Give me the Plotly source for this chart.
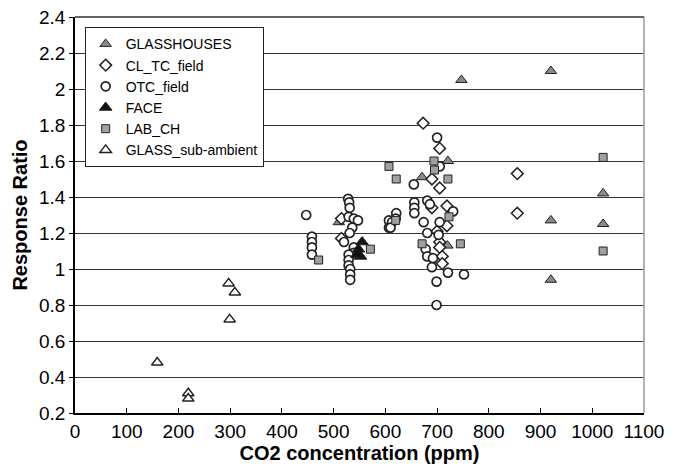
import plotly.graph_objects as go

# ---- data ----
glasshouses_x = [510, 671, 721, 720, 747, 920, 920, 920, 1021, 1021]
glasshouses_y = [1.26, 1.51, 1.60, 1.13, 2.05, 2.10, 1.27, 0.94, 1.42, 1.25]

cltc_x = [515, 515, 673, 705, 690, 705, 690, 719, 719, 705, 705, 710, 710, 700, 855, 855]
cltc_y = [1.28, 1.17, 1.81, 1.67, 1.50, 1.45, 1.34, 1.35, 1.24, 1.15, 1.12, 1.07, 1.03, 1.21, 1.53, 1.31]

otc_x = [447, 458, 458, 458, 458,
         528, 530, 531, 529, 539, 547, 536, 531, 520, 539, 539, 529, 529, 529, 532, 532, 532,
         607, 607, 621, 620, 613, 610,
         655, 656, 656, 656, 681, 686, 700, 705, 674, 705, 731, 681, 703, 678, 681, 692, 690,
         721, 752, 699, 699]
otc_y = [1.30, 1.18, 1.15, 1.12, 1.08,
         1.39, 1.37, 1.34, 1.29, 1.28, 1.27, 1.23, 1.20, 1.15, 1.12, 1.09, 1.08, 1.05, 1.02, 1.00, 0.97, 0.94,
         1.27, 1.23, 1.31, 1.28, 1.26, 1.23,
         1.47, 1.37, 1.34, 1.31, 1.38, 1.36, 1.73, 1.57, 1.26, 1.26, 1.32, 1.20, 1.19, 1.11, 1.07, 1.06, 1.01,
         0.98, 0.97, 0.93, 0.80]

face_x = [555, 548, 552, 545]
face_y = [1.15, 1.11, 1.07, 1.08]

lab_x = [471, 571, 607, 621, 620, 671, 694, 695, 721, 723, 745, 1021, 1021]
lab_y = [1.05, 1.11, 1.57, 1.50, 1.27, 1.14, 1.60, 1.55, 1.50, 1.29, 1.14, 1.62, 1.10]

subamb_x = [159, 219, 219, 297, 309, 299]
subamb_y = [0.48, 0.31, 0.28, 0.92, 0.87, 0.72]

x_ticks = [0, 100, 200, 300, 400, 500, 600, 700, 800, 900, 1000, 1100]
y_ticks = [0.2, 0.4, 0.6, 0.8, 1, 1.2, 1.4, 1.6, 1.8, 2, 2.2, 2.4]

DARK = "#222222"
GRAY_FILL = "#8a8a8a"

fig = go.Figure()

def add(name, xs, ys, symbol, size, fill, lw):
    fig.add_trace(go.Scatter(
        x=xs, y=ys, mode="markers", name=name,
        marker=dict(symbol=symbol, size=size, color=fill,
                    line=dict(color=DARK, width=lw)),
    ))

add("GLASSHOUSES", glasshouses_x, glasshouses_y, "triangle-up", 10, GRAY_FILL, 1)
add("CL_TC_field", cltc_x, cltc_y, "diamond", 9, "white", 1.5)
add("OTC_field", otc_x, otc_y, "circle", 9, "white", 1.7)
add("FACE", face_x, face_y, "triangle-up", 11, "#111111", 1)
add("LAB_CH", lab_x, lab_y, "square", 8, "#a0a0a0", 1)
add("GLASS_sub-ambient", subamb_x, subamb_y, "triangle-up", 10, "white", 1.5)

fig.update_layout(
    width=680, height=466,
    margin=dict(l=75, r=36, t=17, b=53),
    paper_bgcolor="white", plot_bgcolor="white",
    font=dict(family="Liberation Sans, Arial, sans-serif", size=19, color="black"),
    showlegend=True,
    legend=dict(
        x=0.017, y=0.974, xanchor="left", yanchor="top",
        bgcolor="white", bordercolor=DARK, borderwidth=1,
        font=dict(size=14), itemsizing="trace", itemwidth=30,
        tracegroupgap=0,
    ),
    xaxis=dict(
        range=[0, 1100], tickmode="array", tickvals=x_ticks,
        ticks="inside", ticklen=5, tickcolor="black",
        showline=True, linecolor="black", linewidth=1.5,
        showgrid=False, zeroline=False, automargin=False,
        title=dict(text="<b>CO2 concentration (ppm)</b>", font=dict(size=20), standoff=4),
    ),
    yaxis=dict(
        range=[0.2, 2.4], tickmode="array", tickvals=y_ticks,
        ticks="outside", ticklen=4, tickcolor="black",
        showline=True, linecolor="black", linewidth=1.5,
        showgrid=True, gridcolor="#333333", gridwidth=1.3,
        zeroline=False, automargin=False,
        title=dict(text="<b>Response Ratio</b>", font=dict(size=20), standoff=6),
    ),
    shapes=[
        dict(type="line", xref="paper", yref="paper", x0=1, x1=1, y0=0, y1=1,
             line=dict(color="#9a9a9a", width=1.5)),
        dict(type="line", xref="paper", yref="paper", x0=0, x1=1, y0=1, y1=1,
             line=dict(color="#333333", width=1.3)),
    ],
)

fig.write_html("out.html")
